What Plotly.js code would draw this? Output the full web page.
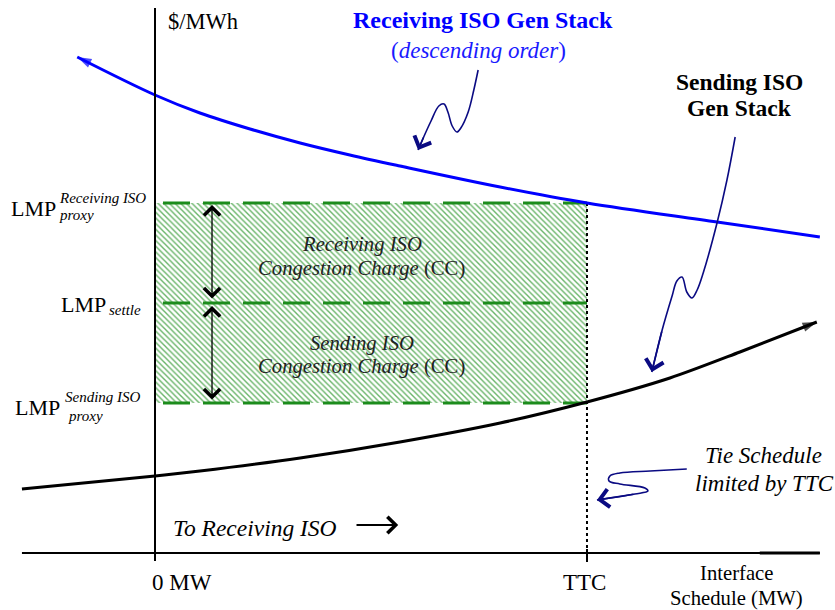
<!DOCTYPE html>
<html><head><meta charset="utf-8">
<script src="https://cdn.plot.ly/plotly-3.0.1.min.js"></script>
<style>html,body{margin:0;padding:0;background:#fff}</style>
</head><body><div id="chart" style="width:835px;height:610px"></div>
<script>
// Interface schedule expressed in % of TTC (0 MW = 0, TTC = 100); prices in conceptual $/MWh
const recvMW    = [-18, 0, 10.4, 22, 33.6, 45.1, 56.7, 79.9, 100, 130.1, 153.9];
const recvPrice = [99.2, 91.6, 88.0, 84.8, 82.0, 79.6, 77.4, 73.2, 70, 66.2, 63.2];
const sendMW    = [-30.8, 0, 10.4, 33.6, 56.7, 79.9, 100, 119.2, 135.4, 153.2];
const sendPrice = [12.8, 15.4, 16.4, 19, 22.2, 26, 30.2, 35, 40.2, 46.2];
const ttcMW = 100;
const lmpRecvProxy = 70, lmpSettle = 50, lmpSendProxy = 30;
const tickVals = [0, ttcMW];
const tickLabels = ['0 MW', 'TTC'];

// hand-drawn callout squiggles (diagram coordinates)
const sqRecvX = [74.8, 73.8, 72.5, 70.8, 69.9, 68.8, 67.8, 66.9, 65.7, 63.9, 62.3, 60.9];
const sqRecvY = [96.6, 92.6, 88.2, 85.0, 84.2, 85.4, 88.2, 89.8, 89.4, 86.4, 83.4, 80.6];
const sqSendX = [134.3, 132.4, 130.1, 126.9, 125.5, 124.3, 123.1, 122.0, 120.8, 119.7, 117.4, 115.0];
const sqSendY = [83.2, 74.6, 66.0, 56.0, 52.6, 51.0, 52.2, 55.2, 54.4, 51.4, 44.6, 36.2];
const sqTieX = [123.1, 114.6, 107.6, 105.3, 105.1, 107.6, 113.4, 114.1, 111.1, 102.3];
const sqTieY = [16.8, 16.4, 16.0, 15.4, 14.4, 13.8, 13.0, 12.4, 11.8, 10.6];

const SERIF = '"Liberation Serif", "Times New Roman", Times, serif';
const GREEN = 'rgb(28,140,28)';
const NAVY = 'rgb(10,10,130)';

function arrowMarker(n, size) {
  return {symbol: Array(n).fill('circle').map((s, i) => i === n - 1 ? 'arrow' : s),
          size: Array(n).fill(0).map((s, i) => i === n - 1 ? size : 0),
          angleref: 'previous', line: {width: 0}};
}

const recvXr = recvMW.slice().reverse(), recvYr = recvPrice.slice().reverse();

const traces = [
  {x: [0, ttcMW, ttcMW, 0, 0], y: [lmpSendProxy, lmpSendProxy, lmpRecvProxy, lmpRecvProxy, lmpSendProxy],
   mode: 'lines', fill: 'toself', line: {width: 0, color: 'rgba(0,0,0,0)'},
   fillcolor: 'rgba(255,255,255,1)',
   fillpattern: {shape: '\\', fgcolor: 'rgb(105,180,105)', bgcolor: 'rgb(255,255,255)', size: 4, solidity: 0.35}},
  ...[lmpRecvProxy, lmpSettle, lmpSendProxy].map(v => ({
    x: [0, ttcMW], y: [v, v], mode: 'lines',
    line: {color: GREEN, width: 3, dash: '0px,8px,27px,5px'}})),
  {x: [ttcMW, ttcMW], y: [lmpRecvProxy, 0], mode: 'lines', line: {color: 'black', width: 2, dash: 'dot'}},
  {x: recvXr, y: recvYr, mode: 'lines+markers', line: {color: '#0000ff', width: 3, shape: 'spline', smoothing: 1},
   marker: Object.assign(arrowMarker(recvXr.length, 15), {color: '#0000ff'})},
  {x: sendMW, y: sendPrice, mode: 'lines+markers', line: {color: 'black', width: 3, shape: 'spline', smoothing: 0.8},
   marker: Object.assign(arrowMarker(sendMW.length, 15), {color: 'black'})},
  {x: sqRecvX, y: sqRecvY, mode: 'lines', line: {color: NAVY, width: 1.6, shape: 'spline', smoothing: 1}},
  {x: sqSendX, y: sqSendY, mode: 'lines', line: {color: NAVY, width: 1.6, shape: 'spline', smoothing: 1}},
  {x: sqTieX, y: sqTieY, mode: 'lines', line: {color: NAVY, width: 1.6, shape: 'spline', smoothing: 1}}
];

function txt(text, x, y, size, opts) {
  return Object.assign({text: text, x: x, y: y, xref: 'x', yref: 'y', showarrow: false,
    xanchor: 'center', yanchor: 'middle', font: {family: SERIF, size: size, color: 'black'}}, opts || {});
}
function arr(x0, y0, x1, y1, color, width, head, size, both) {
  return {x: x1, y: y1, ax: x0, ay: y0, xref: 'x', yref: 'y', axref: 'x', ayref: 'y', text: '',
    showarrow: true, arrowhead: head, startarrowhead: head, arrowsize: size, startarrowsize: size,
    arrowwidth: width, arrowcolor: color, arrowside: both ? 'end+start' : 'end', standoff: 0, startstandoff: 0};
}
const last = (a, k) => a[a.length - 1 - k];
const boxFont = {family: SERIF, size: 20.7, color: '#222'};

const annotations = [
  txt('$/MWh', 2.6, 106.4, 22.5, {xanchor: 'left'}),
  txt('<b>Receiving ISO Gen Stack</b>', 75.9, 106.6, 24, {font: {family: SERIF, size: 24, color: '#0000ff'}}),
  txt('(<i>descending order</i>)', 74.8, 100.6, 23, {font: {family: SERIF, size: 23, color: '#1a1aff'}}),
  txt('<b>Sending ISO</b>', 135.4, 94.2, 23.5),
  txt('<b>Gen Stack</b>', 135.4, 89.0, 23.5),
  txt('<i>Receiving ISO</i>', 47.9, 61.8, 20.7, {font: boxFont}),
  txt('<i>Congestion Charge</i> (CC)', 47.9, 57.0, 20.7, {font: boxFont}),
  txt('<i>Sending ISO</i>', 47.9, 42.0, 20.7, {font: boxFont}),
  txt('<i>Congestion Charge</i> (CC)', 47.9, 37.4, 20.7, {font: boxFont}),
  txt('<i>Tie Schedule</i>', 140.9, 19.6, 23),
  txt('<i>limited by TTC</i>', 141.1, 14.0, 23),
  txt('<i>To Receiving ISO</i>', 3.8, 5.0, 23.5, {xanchor: 'left'}),
  txt(tickLabels[0], tickVals[0] + 6.25, -5.8, 23),
  txt(tickLabels[1], tickVals[1] - 0.5, -5.8, 23),
  txt('Interface', 134.8, -4.0, 20.7),
  txt('Schedule (MW)', 134.7, -9.0, 20.7),
  // LMP labels
  txt('LMP', -22.5, 69.0, 22, {xanchor: 'right'}),
  txt('<i>Receiving ISO</i>', -22.6, 71.0, 15, {xanchor: 'left'}),
  txt('<i>proxy</i>', -22.8, 67.6, 15, {xanchor: 'left'}),
  txt('LMP', -10.9, 49.8, 22, {xanchor: 'right'}),
  txt('<i>settle</i>', -11.0, 48.6, 15, {xanchor: 'left'}),
  txt('LMP', -21.5, 29.2, 22, {xanchor: 'right'}),
  txt('<i>Sending ISO</i>', -21.4, 31.2, 15, {xanchor: 'left'}),
  txt('<i>proxy</i>', -20.6, 27.4, 15, {xanchor: 'left'}),
  // arrows
  arr(13.2, lmpSettle + 0.6, 13.2, lmpRecvProxy - 0.4, 'black', 1.3, 4, 2.4, true),
  arr(13.2, lmpSendProxy + 0.4, 13.2, lmpSettle - 0.6, 'black', 1.3, 4, 2.4, true),
  arr(46.3, 5.6, 56.3, 5.6, 'black', 2, 4, 1.6, false),
  arr(last(sqRecvX, 1), last(sqRecvY, 1), last(sqRecvX, 0), last(sqRecvY, 0), NAVY, 1.6, 4, 2.2, false),
  arr(last(sqSendX, 1), last(sqSendY, 1), last(sqSendX, 0), last(sqSendY, 0), NAVY, 1.6, 4, 2.2, false),
  arr(last(sqTieX, 1), last(sqTieY, 1), last(sqTieX, 0), last(sqTieY, 0), NAVY, 1.6, 4, 2.2, false)
];

const shapes = [
  {type: 'line', xref: 'x', yref: 'y', x0: 0, x1: 0, y0: -1.6, y1: 109, line: {color: 'black', width: 2}},
  {type: 'line', xref: 'x', yref: 'y', x0: -30.8, x1: 153.9, y0: 0, y1: 0, line: {color: 'black', width: 2}},
  {type: 'line', xref: 'x', yref: 'y', x0: 140, x1: 153.9, y0: 0, y1: 0, line: {color: 'black', width: 3}},
  {type: 'line', xref: 'x', yref: 'y', x0: ttcMW, x1: ttcMW, y0: -1.8, y1: 0.8, line: {color: 'black', width: 2}}
];

const layout = {
  width: 835, height: 610, autosize: false,
  margin: {l: 0, r: 0, t: 0, b: 0, pad: 0},
  paper_bgcolor: 'white', plot_bgcolor: 'white',
  showlegend: false,
  xaxis: {range: [-35.88, 157.41], visible: false, fixedrange: true},
  yaxis: {range: [-11.4, 110.6], visible: false, fixedrange: true},
  shapes: shapes, annotations: annotations
};
Plotly.newPlot('chart', traces, layout, {displayModeBar: false, staticPlot: true});
</script></body></html>
